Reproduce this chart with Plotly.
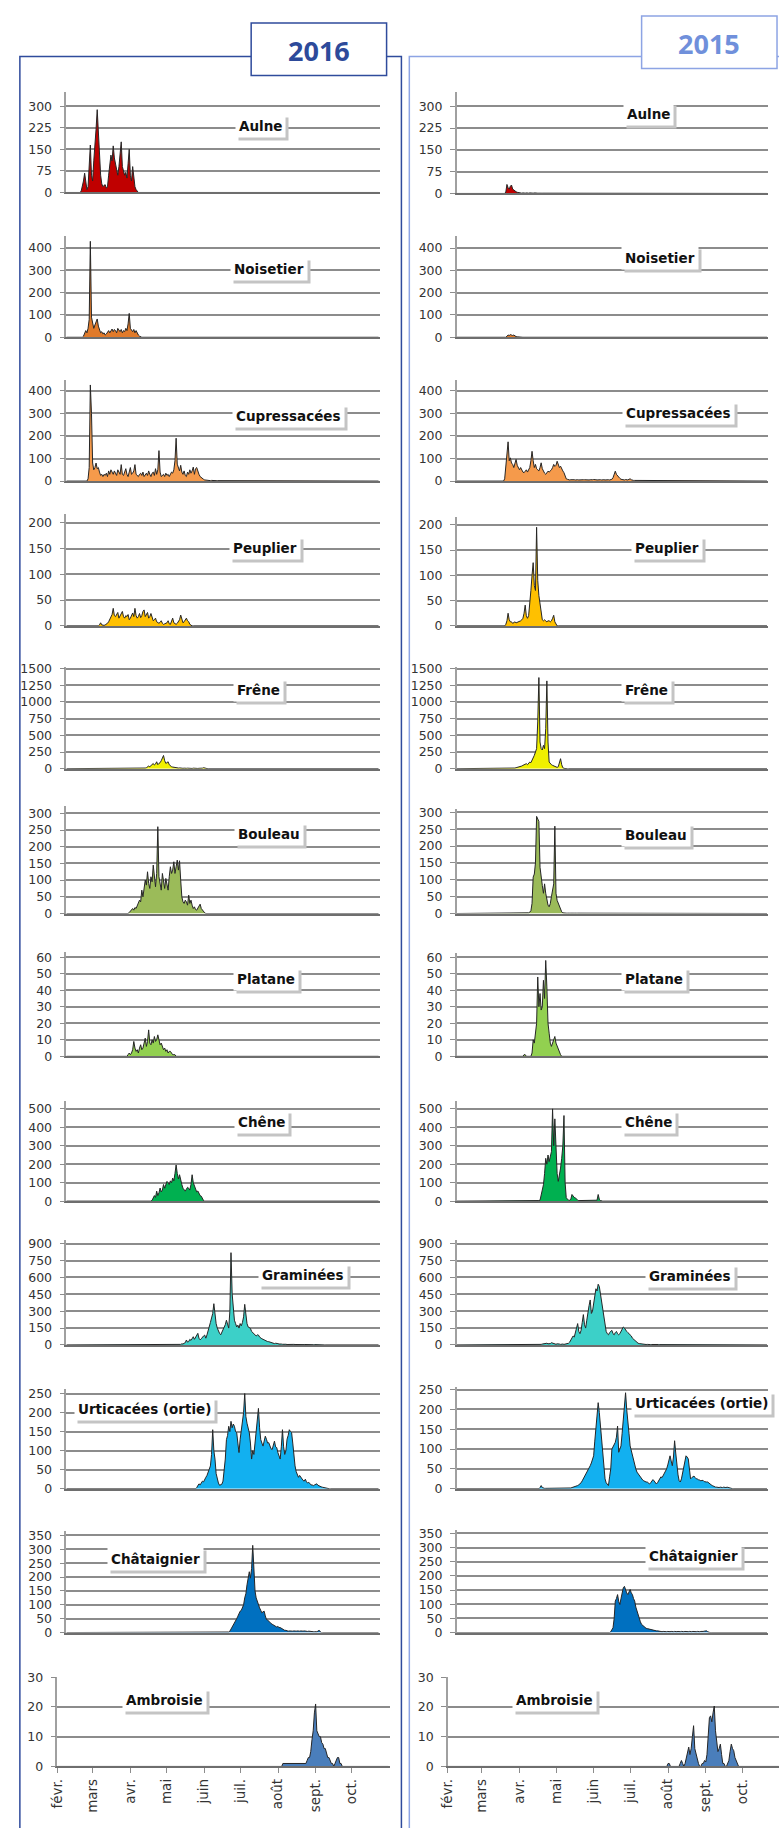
import pandas as pd
import plotly.graph_objects as go

W, H = 779, 1828

# ---------------- DATA (daily pollen counts) ----------------
species = ["Aulne", "Noisetier", "Cupressacées", "Peuplier", "Frêne", "Bouleau",
           "Platane", "Chêne", "Graminées", "Urticacées (ortie)", "Châtaignier", "Ambroisie"]
tick_max = [300, 400, 400, 200, 1500, 300, 60, 500, 900, 250, 350, 30]
tick_step = [75, 100, 100, 50, 250, 50, 10, 100, 150, 50, 50, 10]
fill_colors = ["#C00000", "#E07A2A", "#F59A4B", "#FFC000", "#F0F000", "#9BBB59",
               "#92D050", "#00B050", "#3CD0C8", "#12B0F0", "#0070C0", "#4A7EBB"]

month_ticks = ["févr.", "mars", "avr.", "mai", "juin", "juil.", "août", "sept.", "oct."]

# ---- 2016 ----
aulne_2016_start = "2016-02-14"
aulne_2016 = [5, 20, 40, 67, 30, 10, 20, 90, 165, 60, 40, 110, 190, 220, 288, 194, 120, 60, 30, 20,
              25, 27, 15, 20, 60, 100, 130, 110, 162, 120, 100, 80, 60, 90, 130, 176, 90, 78, 60, 70,
              50, 100, 150, 60, 40, 90, 40, 20, 10, 3]
noisetier_2016_start = "2016-02-16"
noisetier_2016 = [5, 15, 30, 20, 40, 80, 430, 90, 60, 40, 55, 70, 82, 50, 35, 20, 25, 15, 20, 10,
                  15, 25, 30, 20, 30, 37, 25, 35, 30, 20, 40, 30, 25, 35, 20, 30, 25, 40, 30, 60,
                  107, 40, 30, 25, 35, 20, 30, 15, 10, 5, 2]
cupressacees_2016_start = "2016-02-20"
cupressacees_2016 = [10, 60, 426, 300, 80, 50, 60, 80, 55, 60, 40, 25, 30, 20, 30, 25, 35, 20, 45, 30,
                     50, 40, 30, 45, 35, 25, 50, 35, 30, 73, 30, 25, 40, 55, 30, 20, 40, 60, 30, 35,
                     45, 73, 30, 25, 20, 30, 35, 25, 40, 20, 30, 35, 25, 45, 30, 20, 35, 40, 25, 55,
                     30, 50, 135, 40, 20, 25, 30, 20, 35, 25, 30, 20, 30, 40, 35, 50, 90, 190, 75, 60,
                     45, 70, 40, 30, 45, 25, 20, 40, 30, 50, 35, 45, 62, 30, 55, 60, 40, 30, 20, 15,
                     10, 8, 5, 4, 3, 3, 2, 2, 3, 2, 2, 3, 2, 2, 2, 3, 2, 2, 2, 2, 3, 2, 2, 2, 2, 2,
                     3, 2, 2, 2, 1, 1]
peuplier_2016_start = "2016-03-01"
peuplier_2016 = [2, 6, 2, 1, 1, 2, 3, 5, 8, 12, 18, 22, 34, 20, 18, 24, 26, 15, 20, 22,
                 28, 18, 15, 20, 18, 22, 12, 15, 20, 25, 18, 34, 20, 15, 18, 24, 16, 20, 28, 31,
                 18, 22, 26, 15, 18, 24, 14, 10, 12, 15, 8, 6, 5, 7, 10, 5, 3, 4, 5, 6,
                 10, 4, 3, 8, 15, 6, 4, 3, 5, 8, 12, 21, 10, 6, 8, 12, 15, 10, 8, 3, 1]
frene_2016_start = "2016-04-01"
frene_2016 = [3, 3, 4, 5, 4, 6, 8, 5, 6, 10, 15, 25, 40, 30, 50, 60, 78, 55, 70, 104,
              60, 80, 90, 120, 150, 198, 120, 80, 90, 104, 60, 40, 30, 25, 20, 15, 20, 15, 10, 12,
              8, 10, 6, 8, 12, 6, 8, 5, 10, 6, 4, 8, 5, 3, 5, 4, 6, 3, 4, 8, 15, 8, 4, 2]
bouleau_2016_start = "2016-03-27"
bouleau_2016 = [3, 8, 12, 15, 10, 18, 15, 25, 30, 40, 35, 70, 50, 80, 100, 85, 125, 90, 75, 110,
                95, 145, 100, 80, 120, 260, 110, 90, 70, 120, 100, 75, 105, 80, 70, 110, 140, 120, 130, 155,
                120, 140, 160, 130, 158, 100, 50, 35, 30, 40, 35, 25, 55, 30, 40, 25, 15, 20, 12, 10,
                15, 20, 28, 15, 10, 4, 2]
platane_2016_start = "2016-03-26"
platane_2016 = [1, 2, 1, 2, 4, 9, 5, 3, 4, 2, 5, 7, 4, 5, 8, 11, 6, 9, 16, 8,
                7, 10, 8, 12, 9, 10, 13, 9, 7, 8, 6, 4, 5, 3, 4, 2, 3, 3, 2, 1, 1, 1]
chene_2016_start = "2016-04-16"
chene_2016 = [5, 15, 30, 20, 54, 30, 45, 71, 50, 60, 90, 70, 95, 107, 100, 90, 110, 100, 125, 110,
              150, 196, 150, 120, 143, 110, 90, 70, 60, 54, 65, 75, 70, 60, 90, 143, 100, 80, 60, 50,
              55, 40, 30, 27, 10, 3]
graminees_2016_start = "2016-05-06"
graminees_2016 = [3, 4, 3, 5, 4, 5, 10, 8, 15, 20, 44, 25, 30, 50, 40, 60, 73, 50, 70, 80,
                  103, 60, 45, 55, 70, 80, 88, 60, 90, 120, 161, 200, 240, 279, 367, 250, 190, 150, 120, 103,
                  90, 110, 132, 150, 180, 220, 170, 150, 300, 821, 455, 300, 220, 190, 160, 176, 150, 190, 170, 200,
                  250, 361, 250, 190, 160, 150, 147, 120, 110, 103, 95, 80, 90, 88, 70, 60, 55, 50, 44, 40,
                  35, 30, 29, 25, 20, 18, 15, 12, 15, 10, 12, 8, 10, 8, 6, 8, 5, 6, 4, 5,
                  4, 5, 3, 4, 5, 4, 3, 5, 4, 3, 4, 3, 3, 4, 3, 3, 4, 3, 2, 3, 2, 2, 3, 2, 1]
urticacees_2016_start = "2016-05-25"
urticacees_2016 = [3, 8, 13, 10, 15, 20, 18, 26, 30, 35, 43, 50, 60, 90, 155, 100, 78, 40, 26, 15,
                   9, 10, 12, 20, 50, 78, 129, 140, 164, 150, 177, 160, 170, 164, 150, 147, 120, 95, 130, 150,
                   181, 200, 250, 190, 172, 160, 147, 120, 78, 100, 90, 120, 150, 180, 211, 160, 129, 120, 112, 125,
                   138, 130, 120, 121, 110, 105, 103, 115, 125, 110, 108, 95, 85, 78, 110, 155, 110, 90, 100, 130,
                   140, 155, 150, 147, 120, 80, 60, 45, 34, 30, 35, 30, 25, 22, 20, 25, 18, 15, 17, 12,
                   10, 10, 8, 10, 12, 13, 9, 7, 7, 5, 4, 3, 2, 1]
chataignier_2016_start = "2016-06-22"
chataignier_2016 = [2, 5, 12, 20, 25, 36, 40, 50, 59, 70, 77, 80, 89, 100, 125, 140, 172, 190, 219, 196,
                    230, 314, 200, 150, 125, 110, 95, 89, 80, 71, 75, 77, 60, 47, 45, 40, 36, 33, 30, 28,
                    25, 24, 20, 22, 18, 18, 15, 12, 10, 8, 8, 6, 5, 6, 5, 6, 5, 6, 5, 5,
                    6, 5, 5, 6, 5, 5, 6, 5, 5, 4, 5, 4, 5, 3, 3, 3, 2, 3, 5, 8, 4]
ambroisie_2016_start = "2016-08-05"
ambroisie_2016 = [1, 1, 1, 1, 1, 1, 1, 1, 1, 1, 1, 1, 1, 1, 1, 1, 1, 1, 1, 1,
                  2, 3, 3, 5, 9, 12, 18, 21, 12, 11, 10, 10, 8, 7.5, 6, 6, 4, 3, 3, 2,
                  1, 1, 0, 1, 2, 3, 3, 1, 1, 0]

# ---- 2015 ----
aulne_2015_start = "2015-03-16"
aulne_2015 = [5, 31, 20, 15, 25, 29, 15, 11, 8, 6, 4, 3, 2, 2, 1,
              2, 1, 1, 2, 1, 1, 2, 1, 1, 1, 2, 1, 1, 1, 1, 2, 1, 1, 1, 1, 1, 2, 1, 1, 1, 1, 1, 1, 2, 1, 1, 1, 1]
noisetier_2015_start = "2015-03-17"
noisetier_2015 = [5, 10, 8, 12, 10, 8, 10, 5, 3, 2, 1]
cupressacees_2015_start = "2015-03-15"
cupressacees_2015 = [10, 60, 120, 174, 90, 103, 80, 74, 60, 85, 96, 70, 59, 50, 60, 45, 40, 37, 45, 50,
                     40, 55, 60, 90, 132, 90, 60, 74, 55, 50, 45, 60, 81, 55, 40, 35, 30, 38, 44, 40,
                     45, 50, 60, 74, 65, 70, 88, 75, 60, 66, 50, 45, 37, 20, 10, 8, 6, 5, 6, 7,
                     5, 6, 5, 7, 6, 5, 6, 7, 5, 6, 6, 5, 7, 6, 5, 6, 5, 6, 7, 5,
                     6, 5, 6, 5, 6, 5, 7, 6, 5, 6, 5, 6, 5, 6, 8, 15, 30, 44, 30, 22,
                     18, 12, 8, 6, 7, 5, 7, 6, 5, 8, 10, 6, 3, 3, 3, 3, 2, 3, 2, 2, 2, 2, 1, 1]
peuplier_2015_start = "2015-03-16"
peuplier_2015 = [3, 10, 25, 12, 8, 8, 5, 6, 8, 6, 7, 8, 8, 10, 12, 15, 25, 41, 20, 15,
                 20, 40, 70, 100, 125, 80, 70, 195, 90, 60, 44, 20, 12, 10, 12, 10, 8, 10, 10, 8,
                 10, 15, 21, 8, 2]
frene_2015_start = "2015-03-23"
frene_2015 = [5, 10, 15, 20, 25, 20, 30, 40, 50, 60, 70, 75, 60, 80, 100, 90, 120, 150, 200, 250,
              300, 700, 1365, 400, 300, 280, 350, 300, 600, 1315, 400, 100, 70, 60, 50, 40, 30, 25, 20, 30,
              80, 150, 60, 15, 5]
bouleau_2015_start = "2015-04-05"
bouleau_2015 = [2, 4, 8, 30, 108, 117, 150, 288, 280, 273, 137, 100, 83, 60, 88, 60, 39, 25, 20, 29,
                50, 73, 88, 259, 60, 39, 30, 20, 10, 5, 2, 1, 2, 1, 1, 2, 1, 1, 2, 1,
                1, 2, 1, 1, 1, 2, 1, 1, 1, 2, 1, 1, 1, 2, 1, 1, 1, 2, 1, 1, 1, 2, 1]
platane_2015_start = "2015-03-31"
platane_2015 = [0, 1, 1, 0, 0, 0, 0, 0, 2, 10, 8, 14, 20, 48, 30, 38, 28, 30, 46, 35,
                58, 42, 20, 14, 8, 6, 8, 10, 12, 8, 6, 4, 2, 1]
chene_2015_start = "2015-04-02"
chene_2015 = [2, 2, 2, 2, 2, 2, 2, 2, 2, 2, 2, 2, 3, 5, 36, 60, 89, 150, 232, 200,
              250, 214, 240, 268, 500, 300, 446, 250, 150, 107, 140, 179, 232, 300, 464, 100, 18, 10, 5, 5,
              10, 36, 25, 20, 18, 10, 5, 3, 3, 3, 3, 3, 3, 3, 3, 3, 3, 3, 3, 3,
              3, 3, 3, 5, 36, 10, 3]
graminees_2015_start = "2015-04-16"
graminees_2015 = [5, 8, 10, 6, 12, 15, 10, 8, 12, 20, 15, 10, 8, 6, 10, 12, 8, 5, 10, 8,
                  5, 6, 8, 10, 15, 25, 40, 60, 80, 70, 100, 150, 190, 120, 100, 130, 200, 270, 180, 150,
                  220, 300, 350, 400, 280, 300, 380, 450, 500, 480, 540, 520, 450, 380, 300, 250, 180, 120, 100, 90,
                  110, 120, 130, 100, 90, 110, 120, 100, 90, 100, 120, 140, 160, 150, 130, 120, 110, 100, 90, 80,
                  60, 50, 40, 30, 20, 15, 12, 10, 8, 6, 5, 5, 4, 5, 3, 4, 3, 4, 5, 3,
                  4, 3, 3, 4, 3, 3, 4, 3, 2, 3, 3, 2, 3, 2, 3, 2, 3, 2, 2, 2, 2, 2, 1, 2, 1]
urticacees_2015_start = "2015-04-15"
urticacees_2015 = [3, 8, 3, 1, 1, 1, 1, 1, 1, 1, 1, 1, 1, 1, 1, 1, 1, 1, 1, 1, 1, 1, 1, 1, 1, 1, 1,
                   2, 3, 4, 4, 5, 6, 8, 10, 12, 15, 20, 25, 30, 35, 42, 45, 50, 58, 65, 75,
                   83, 120, 158, 190, 217, 192, 160, 142, 108, 60, 25, 15, 10, 8, 30, 50, 100, 105, 110, 117,
                   130, 158, 92, 100, 108, 140, 175, 200, 242, 200, 175, 140, 108, 95, 85, 75, 60, 50, 42, 38,
                   32, 28, 25, 22, 20, 18, 17, 17, 15, 12, 15, 20, 23, 20, 15, 12, 15, 20, 25, 30,
                   28, 33, 40, 45, 50, 60, 75, 83, 70, 58, 80, 121, 90, 58, 35, 20, 17, 25, 42, 60,
                   75, 83, 80, 75, 50, 25, 28, 30, 32, 28, 25, 25, 22, 22, 20, 21, 21, 18, 17, 17,
                   17, 14, 12, 10, 8, 6, 5, 4, 4, 3, 3, 4, 3, 3, 4, 3, 3, 4, 3, 1]
chataignier_2015_start = "2015-06-16"
chataignier_2015 = [3, 10, 17, 50, 111, 120, 134, 110, 99, 120, 140, 158, 163, 150, 140, 134, 145, 152, 140, 134,
                    120, 111, 90, 76, 60, 47, 38, 29, 25, 20, 17, 15, 14, 13, 12, 10, 8, 8, 7, 6,
                    6, 6, 5, 4, 4, 3, 4, 3, 4, 3, 4, 3, 3, 4, 3, 3, 4, 3, 3, 4,
                    3, 3, 4, 3, 3, 4, 3, 3, 3, 4, 3, 3, 4, 3, 3, 3, 4, 3, 3, 4,
                    3, 4, 5, 6, 6, 3]
ambroisie_2015_start = "2015-08-01"
ambroisie_2015 = [1, 1, 0, 0, 0, 0, 0, 0, 0, 0, 1, 2, 1, 0, 1, 3, 5, 6.5, 4, 6,
                  10, 13.7, 6, 4, 3, 1, 0, 0, 1, 1, 2, 1.5, 4, 10, 16.4, 17, 15, 18, 20.3, 12,
                  8.7, 5, 6, 7.5, 4, 1, 1, 0, 0, 1, 2, 5, 7.5, 6, 5.3, 3, 2, 1.5, 0]

data_2016 = [(aulne_2016_start, aulne_2016), (noisetier_2016_start, noisetier_2016),
             (cupressacees_2016_start, cupressacees_2016), (peuplier_2016_start, peuplier_2016),
             (frene_2016_start, frene_2016), (bouleau_2016_start, bouleau_2016),
             (platane_2016_start, platane_2016), (chene_2016_start, chene_2016),
             (graminees_2016_start, graminees_2016), (urticacees_2016_start, urticacees_2016),
             (chataignier_2016_start, chataignier_2016), (ambroisie_2016_start, ambroisie_2016)]
data_2015 = [(aulne_2015_start, aulne_2015), (noisetier_2015_start, noisetier_2015),
             (cupressacees_2015_start, cupressacees_2015), (peuplier_2015_start, peuplier_2015),
             (frene_2015_start, frene_2015), (bouleau_2015_start, bouleau_2015),
             (platane_2015_start, platane_2015), (chene_2015_start, chene_2015),
             (graminees_2015_start, graminees_2015), (urticacees_2015_start, urticacees_2015),
             (chataignier_2015_start, chataignier_2015), (ambroisie_2015_start, ambroisie_2015)]

# ---------------- LAYOUT GEOMETRY (pixels) ----------------
# (zero line y, top tick y, axis top y)
geo_left = [(186, 99, 85), (332, 242, 230), (477, 386, 375), (623, 519, 510), (767, 666, 664),
            (913, 812, 805), (1057, 957, 952), (1203, 1110, 1102), (1348, 1246, 1242),
            (1493, 1397, 1392), (1638, 1540, 1536), (1773, 1683, 1683)]
geo_right = [(187, 99, 85), (332, 242, 230), (477, 386, 375), (623, 521, 513), (767, 666, 664),
             (913, 811, 808), (1057, 957, 953), (1203, 1110, 1102), (1348, 1246, 1242),
             (1493, 1393, 1390), (1638, 1538, 1535), (1773, 1683, 1683)]
xdom_left = (58, 375)
xdom_left_last = (49, 385)
xdom_right = (453, 768)
xdom_right_last = (444, 779)

label_left = [(254, 119), (263, 263), (283, 411), (259, 544), (252, 688), (263, 833), (260, 979),
              (255, 1123), (297, 1277), (137, 1413), (148, 1564), (157, 1706)]
label_right = [(647, 107), (659, 252), (677, 408), (666, 544), (645, 688), (655, 834), (653, 979),
               (647, 1123), (689, 1278), (701, 1407), (692, 1561), (552, 1706)]

GRID = "#8c8c8c"
TICKFONT = dict(family="DejaVu Sans, sans-serif", size=12.5, color="#333333")
XTICKFONT = dict(family="DejaVu Sans, sans-serif", size=13.5, color="#333333")
LABELFONT = "DejaVu Sans, sans-serif"

fig = go.Figure()
layout = dict(width=W, height=H, margin=dict(l=0, r=0, t=0, b=0),
              paper_bgcolor="white", plot_bgcolor="rgba(0,0,0,0)", showlegend=False)
annotations = []
shapes = []


def px(x):
    return x / W


def py(y):
    return 1 - y / H


for col, (year, data, geo, labels) in enumerate([(2016, data_2016, geo_left, label_left),
                                                  (2015, data_2015, geo_right, label_right)]):
    full = pd.date_range(f"{year}-02-01", f"{year}-10-31", freq="D")
    for r in range(12):
        n = col * 12 + r + 1
        start, vals = data[r]
        s = pd.Series(0.0, index=full)
        idx = pd.date_range(start, periods=len(vals), freq="D")
        s.loc[idx] = vals
        xa = "x" if n == 1 else f"x{n}"
        ya = "y" if n == 1 else f"y{n}"
        fig.add_trace(go.Scatter(x=s.index, y=s.values, mode="lines",
                                 line=dict(color="#262626", width=1),
                                 fill="tozeroy", fillcolor=fill_colors[r],
                                 xaxis=xa, yaxis=ya, hoverinfo="skip"))
        last = (r == 11)
        if col == 0:
            xd = xdom_left_last if last else xdom_left
        else:
            xd = xdom_right_last if last else xdom_right
        zero_y, tick_y, top_y = geo[r]
        rng_top = tick_max[r] * (zero_y - top_y) / (zero_y - tick_y)
        if col == 1 and last:
            xr = [f"{year}-02-01", f"{year}-10-31 05:00"]
        else:
            xr = [f"{year}-02-01", f"{year}-11-01"]
        xaxis = dict(domain=[px(xd[0]), px(xd[1])], anchor=ya, range=xr, showgrid=False,
                     zeroline=False, showline=True, linecolor="#6e6e6e", linewidth=2,
                     fixedrange=True)
        if last:
            xaxis.update(tickvals=[f"{year}-{m:02d}-01" for m in range(2, 11)],
                         ticktext=month_ticks, tickangle=-90, ticks="outside", ticklen=5,
                         tickcolor=GRID, tickfont=XTICKFONT, showticklabels=True)
        else:
            xaxis.update(showticklabels=False, ticks="")
        yaxis = dict(domain=[py(zero_y), py(top_y)], anchor=xa, range=[0, rng_top],
                     tickvals=list(range(0, tick_max[r] + 1, tick_step[r])),
                     showgrid=True, gridcolor=GRID, gridwidth=1.5, zeroline=False,
                     showline=True, linecolor="#a0a0a0", linewidth=1.5,
                     ticks="outside", ticklen=5, tickcolor=GRID, tickfont=TICKFONT,
                     ticklabelstandoff=5, fixedrange=True)
        layout["xaxis" if n == 1 else f"xaxis{n}"] = xaxis
        layout["yaxis" if n == 1 else f"yaxis{n}"] = yaxis

        lx, ly = labels[r]
        common = dict(xref="paper", yref="paper", x=px(lx), y=py(ly), xanchor="center",
                      yanchor="middle", showarrow=False, borderpad=3,
                      text=f"<b>{species[r]}</b>")
        annotations.append(dict(common, bgcolor="#c4c4c4", xshift=3, yshift=-3,
                                font=dict(family=LABELFONT, size=13.5, color="rgba(0,0,0,0)")))
        annotations.append(dict(common, bgcolor="white",
                                font=dict(family=LABELFONT, size=13.5, color="#111111")))

# frames and title boxes
shapes.append(dict(type="rect", xref="paper", yref="paper", x0=px(11), x1=px(397),
                   y0=py(1840), y1=py(49), line=dict(color="#2F4B9C", width=1.5),
                   fillcolor="rgba(0,0,0,0)", layer="above"))
shapes.append(dict(type="rect", xref="paper", yref="paper", x0=px(405), x1=px(800),
                   y0=py(1840), y1=py(49), line=dict(color="#8DA4E4", width=1.5),
                   fillcolor="rgba(0,0,0,0)", layer="above"))
shapes.append(dict(type="rect", xref="paper", yref="paper", x0=px(245), x1=px(382),
                   y0=py(68), y1=py(15), line=dict(color="#2F4B9C", width=1.5),
                   fillcolor="white", layer="above"))
shapes.append(dict(type="rect", xref="paper", yref="paper", x0=px(640), x1=px(777),
                   y0=py(61), y1=py(8), line=dict(color="#8DA4E4", width=1.5),
                   fillcolor="white", layer="above"))
annotations.append(dict(xref="paper", yref="paper", x=px(314), y=py(43), text="<b>2016</b>",
                        showarrow=False, xanchor="center", yanchor="middle",
                        font=dict(family="Open Sans", size=27, color="#2D4A9A")))
annotations.append(dict(xref="paper", yref="paper", x=px(708), y=py(36), text="<b>2015</b>",
                        showarrow=False, xanchor="center", yanchor="middle",
                        font=dict(family="Open Sans", size=27, color="#7090DB")))

layout["annotations"] = annotations
layout["shapes"] = shapes
fig.update_layout(**layout)
fig.write_html("out.html", config={"displayModeBar": False},
               post_script="document.body.style.margin='0px';document.body.style.overflow='hidden';")
